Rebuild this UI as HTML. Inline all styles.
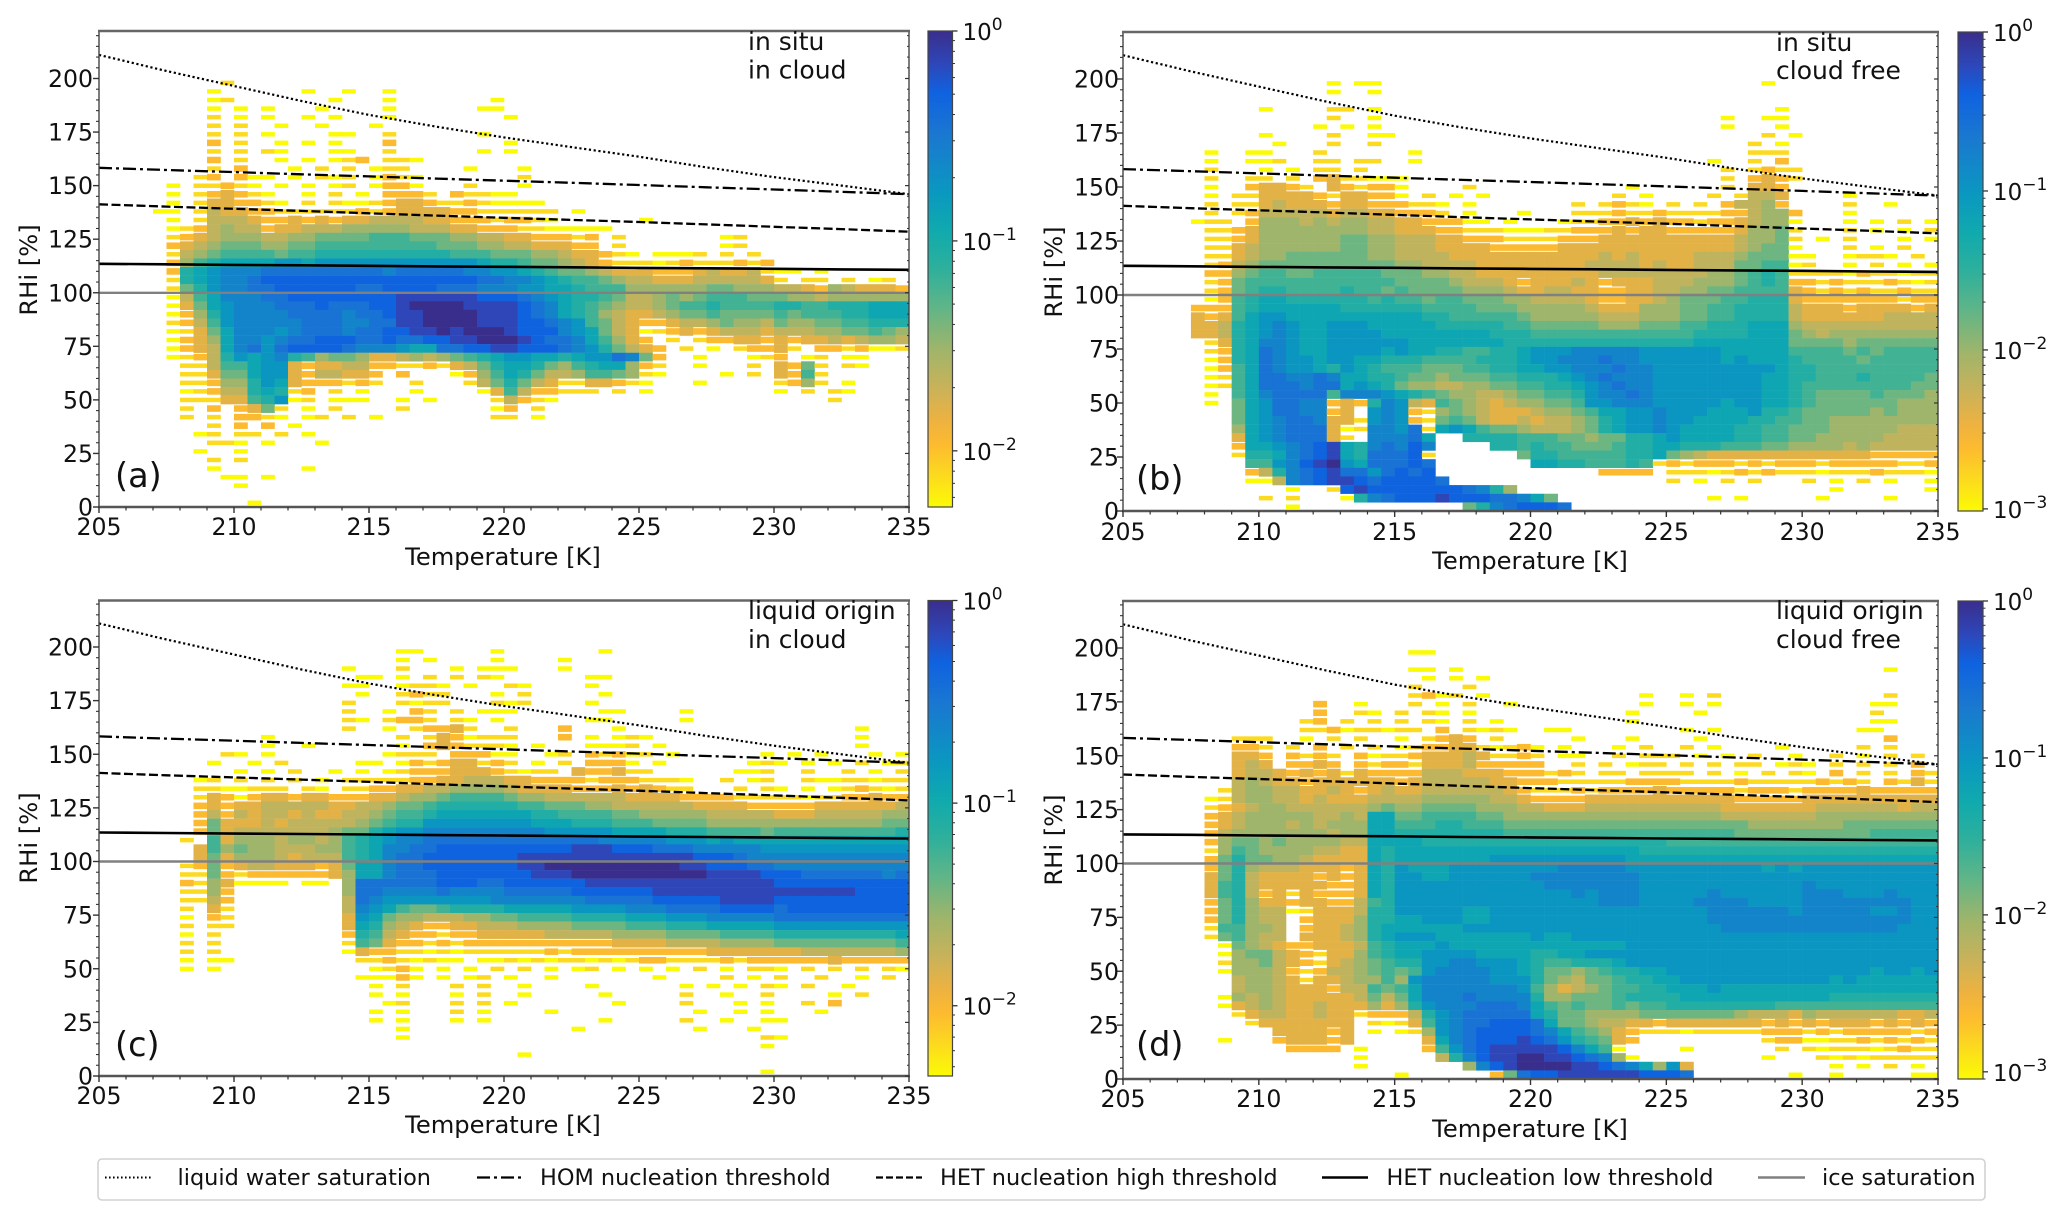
<!DOCTYPE html>
<html lang="en">
<head>
<meta charset="utf-8">
<title>RHi versus temperature frequency distributions</title>
<style>
html,body{margin:0;padding:0;background:#fff;}
svg{display:block;}
text{font-family:"DejaVu Sans","Liberation Sans",sans-serif;fill:#111;}
</style>
</head>
<body>
<svg id="figure" width="2067" height="1217" viewBox="0 0 2067 1217">
<rect x="0" y="0" width="2067" height="1217" fill="#fff"/>
<g id="panels"></g>
<g>
<rect x="98" y="1159" width="1887" height="41" rx="4" fill="#fff" stroke="#d2d2d6" stroke-width="1.6"/>
<line x1="105" y1="1177.5" x2="152" y2="1177.5" stroke="#000" stroke-width="2" stroke-dasharray="1.6 2.4"/>
<text x="177.5" y="1185" font-size="22.4">liquid water saturation</text>
<line x1="477" y1="1177.5" x2="523" y2="1177.5" stroke="#000" stroke-width="2.2" stroke-dasharray="13 4 3 4"/>
<text x="540" y="1185" font-size="22.4">HOM nucleation threshold</text>
<line x1="876" y1="1177.5" x2="922" y2="1177.5" stroke="#000" stroke-width="2.2" stroke-dasharray="7 3"/>
<text x="940" y="1185" font-size="22.4">HET nucleation high threshold</text>
<line x1="1322" y1="1177.5" x2="1368" y2="1177.5" stroke="#000" stroke-width="2.6"/>
<text x="1386.5" y="1185" font-size="22.4">HET nucleation low threshold</text>
<line x1="1758" y1="1177.5" x2="1805" y2="1177.5" stroke="#808080" stroke-width="2.4"/>
<text x="1822" y="1185" font-size="22.4">ice saturation</text>
</g>
</svg>
<script>
// Axis categories: lower edge of each heatmap bin.
const temperatureBins = [205,205.5,206,206.5,207,207.5,208,208.5,209,209.5,210,210.5,211,211.5,212,212.5,213,213.5,214,214.5,215,215.5,216,216.5,217,217.5,218,218.5,219,219.5,220,220.5,221,221.5,222,222.5,223,223.5,224,224.5,225,225.5,226,226.5,227,227.5,228,228.5,229,229.5,230,230.5,231,231.5,232,232.5,233,233.5,234,234.5];
const rhiBins = [196,192,188,184,180,176,172,168,164,160,156,152,148,144,140,136,132,128,124,120,116,112,108,104,100,96,92,88,84,80,76,72,68,64,60,56,52,48,44,40,36,32,28,24,20,16,12,8,4,0];

// Tick labels.
const xTickLabels = [205,210,215,220,225,230,235];
const yTickLabels = [0,25,50,75,100,125,150,175,200];

// Threshold curves.
const curveTemperatures = [205,207.5,210,212.5,215,217.5,220,222.5,225,227.5,230,232.5,235];
const liquidWaterSaturation = [211,203.5,196.5,189.5,183,177.5,172.5,168,163.5,158.5,154,150,146];
const homThreshold = [158.3,157.3,156.3,155.3,154.3,153.3,152.3,151.3,150.3,149.2,148.2,147.1,146];
const hetHighThreshold = [141.3,140.2,139.2,138.2,137.1,136,135,134,133,131.9,130.8,129.7,128.5];
const hetLowThreshold = [113.5,113.3,113,112.8,112.6,112.3,112.1,111.9,111.6,111.4,111.2,110.9,110.7];
const iceSaturation = [100,100,100,100,100,100,100,100,100,100,100,100,100];

// Colormap, from low frequency to high frequency.
const colormapPositions = [0,0.07,0.13,0.18,0.25,0.33,0.42,0.5,0.58,0.66,0.78,0.87,0.93,1];
const colormapColors = ['#fbfb05','#fcd820','#fdbb2f','#eeb240','#c9b25a','#a0b56a','#5fb588','#2eb09c','#10aaae','#0a98c0','#1a78d0','#0f62e0','#2d47ba','#3a2e8c'];

// Heatmap frequencies. One string per RHi bin and one character per temperature bin.
// "." means empty. 0-f are steps of 1/15 along the panel's logarithmic colour scale.
const panelARows = [
".........1 .......... .......... .......... .......... ..........",
"........0. .....0..0. .0........ .......... .......... ..........",
"........01 .......0.. .0.......0 .......... .......... ..........",
"........0. 0.0...0... .0......00 .......... .......... ..........",
"........1. 0.0..0.0.. .0........ 0......... .......... ..........",
"........1. 1..0..0... 0......... .......... .......... ..........",
"........1. 1.0....00. .1......0. .......... .......... ..........",
"........2. 1..0.0.0.. .2........ 0......... .......... ..........",
"........1. 1.10...00. .1......0. 0......... .......... ..........",
"........2. 1..0.0.012 .110...... .......... .......... ..........",
"........1. 2...0.1.1. 011....0.. .0........ .......... ..........",
".......12. 200.0.101. 0210...... .1........ .......... ..........",
".....0.112 10.0.0.01. 0220...1.. .0........ .......... ..........",
".....0.123 210..0.1.0 .2221.2110 0......... .......... ..........",
".....0.133 2210.1.100 1233211210 000....... .......... ..........",
"....00.143 3221111112 1233332211 1111.0.... .......... ..........",
".....0.144 4322323233 4444332221 2210...... 0......... ..........",
".....01245 4423344455 5554443322 21100000.. .......... ..........",
".....12345 5544556666 7776665544 3322212.1. ......01.. ..........",
".....23456 6655667777 7777766655 4433322.1. ......01.. ..........",
".....14567 7776778888 8888887776 6655433210 .0001.1.1. ..........",
".....25789 999aa9aaaa aaaaaaaa98 8766543211 1012111212 ..........",
".....289ab bbcccccccc cbcccccbba a987665433 3222343341 00.0......",
".....189ab bcdddddddd ddddddddcc bba9877654 4333444443 1.11.1.01.",
".....168ab bccddddddc cddddcccbb baa9987775 5555566555 4432543332",
".....0479b bbccdddddd ddeeeeeedd dcba988764 4565677766 6554555555",
".....0369a bbbcccdccc ddeffffeee edcb987654 4567787777 8877888999",
".....0258a bbbbccccbc cdeeffffee edcb987543 3456676666 7677788999",
".....1247a bbbbbcccbb cceeffffee eddcba7643 2234456554 6556677888",
".....01369 bbbabcccbc cddeefefff edddba9643 0123234443 4445566765",
".....02359 bbabccdddc cdccddeeff fedccb9753 2.1.122332 3233434554",
".....02349 bcacddddcb bba99ccdde edddcba864 32.1.0.122 31.2212001",
".....01248 a9ab875665 3345456789 aa9989aacb 62..0...01 2.01.00...",
"......1147 79aa323344 2211213468 9986578995 21..0...1. 3261.10...",
"......1136 69aa324433 2.2...0257 9864457765 10....0.1. 3271......",
"......1125 58a9322212 1..1...146 8643113321 0...0..... 1251.0....",
"......0124 489812.1.0 ...0....03 7422111.1. 0......... 0.1.10....",
"......1113 378a01.000 ..0.0....1 4210...... .......... ....1.....",
"......1.2. 2361.0.1.. ..1......0 2.1....... .......... ..........",
"......1.1. 2210.01.1. 0........1 1.0....... .......... ..........",
"........1. 2.2.0..... .......... .......... .......... ..........",
".......01. 11.1.0.... .......... .......... .......... ..........",
"........11 0.0...0... .......... .......... .......... ..........",
".......0.. 0......... .......... .......... .......... ..........",
"........1. 1......... .......... .......... .......... ..........",
"........0. .....0.... .......... .......... .......... ..........",
".........0 0.0....... .......... .......... .......... ..........",
".......... 0......... .......... .......... .......... ..........",
".......... .......... .......... .......... .......... ..........",
".......... .0........ .......... .......... .......... .........."
];
const panelBRows = [
".......... .....0.00. .......... .......... .......0.. ..........",
".......... .....0..0. .......... .......... .......... ..........",
".......... .......... .......... .......... .......... ..........",
".......... 0....11.0. .......... .......... ........0. ..........",
".......... .....1..0. .......... .......... ....0..00. ..........",
".......... ....0.0.0. .......... .......... ....0...0. ..........",
".......... 0....1..00 .......... .......... .......1.0 ..........",
".......... .0...1..1. .......... .......... ......1.0. ..........",
"......0..0 0...1..... .0........ .......... ......111. ..........",
"......0..0 01..11.11. .0........ .......... ...0..1.2. ..........",
"......1... 0.0.11.1.. .......... .......... ....1.1211 ..........",
"......1..1 1.1.231100 0......... .......... ....1.2321 ..........",
"......0..2 3321.32122 0....1.... .......0.. ....1.332. ..........",
"......0.11 3333213322 0.1.0.0... ......1.0. ...1.1443. ...0......",
"......1.11 3433323322 2110.0.... ...1.1210. 1.1.24452. ...1..0...",
"......1.12 4444434433 2221.0...0 ...1112112 1111224552 ...0......",
".....011.2 5554545544 3322200.0. ..01122323 2212234550 ...0.0.1.0",
"......1123 5555555544 3332211100 0112223233 2222235561 ...1.0.0.1",
"......1123 5555556655 4443322211 1122233333 3333345561 .0.1...0.0",
"......1134 5555556655 4443333222 2233333333 3333345660 ...1.0.1..",
"......1134 5566666655 4444333333 3333343433 3344456660 0..0110.1.",
"......1245 6666666666 5544443333 3333444434 3344466770 1..0.1.0.0",
"......2256 7766777776 6655443333 3333344444 4445567871 1110211011",
"......1267 7777777777 6666544432 3334323334 4455567872 2121112101",
"......1267 8877778776 7666655543 3443322334 4556677773 2121211211",
"......0278 9988888878 7767766655 4444322334 5666778883 2222222122",
".....22278 9999998888 8877776665 5555433355 5667788884 3332333323",
".....32379 aa99999999 9988777776 5555544455 5667788884 3333334444",
".....33489 aba99aaa99 9998888877 6666655566 6778889995 4444444444",
".....33489 aba99aaaa9 9999999888 7777777777 7788889996 5455555555",
"......1389 bba99aaaaa a999999988 8888888888 8899999996 6665666666",
"......1289 cba99aaaa9 a998877889 aaabbbbbaa aaaa999997 7776767777",
"......0289 cbaa9aa998 8877778889 aabbbcbbaa aaaa9a9998 7777677777",
"......0279 cbaa98a987 7766677889 9aabbbcbba aaaaaaaa98 8777777777",
"......0179 ccbbcb9988 7665666778 889abcbbba aaaaaaa998 8777877776",
"......0179 cccbcc9a98 6554455667 7889abcbba aaaaaaa998 7777777766",
"......0.79 bcccc7bbba 9876554456 6778abbcba aaaaaaa998 7666676665",
"......0.69 accbb2328b a437654345 5667aabbba aaaa9aa998 7666666555",
"........69 accbb23.ab a215654333 4556799aab aaa999a887 6666656555",
"........69 abccb331ab a216764334 3445689aab aa99998877 6655555555",
"........59 abccc301bb ac19a97665 4445689aab a999988776 6655555444",
"........39 abccc31.bb bc9..88887 7766566889 a999988776 6555554444",
"........29 9abcde98bc bdb....887 8776667889 9888777665 5554544444",
"........18 89bcde98cc cd1......6 8877777889 6543333333 3333322222",
".........7 7abdefa9cc cdc....... 9988777871 2122212122 2122222112",
".........2 48bcdeccac dcd....... .....2222. 1110121211 1011121110",
".........0 04bcdeedcd dddc...... .......... 1.0.1.1... 1.0.1.0..0",
".......... ..0..1dedd dddddcb85. .......... .......... ..0......0",
".......... 1.1...08bc dddedddccb 96........ ...0.0.... .0....0...",
".......... ..0....... .....68bcd ddc....... .......... .........."
];
const panelCRows = [
".......... .......... ..00.....0 .......0.. .......... ..........",
".......... .......... ..0.0....0 ....0..... .......... ..........",
".......... ........0. ..1...0.00 0...0..... .......... ..........",
".......... .........0 0.0.1.1.10 ......00.. .......... ..........",
".......... ........00 ..0110.0.. 10....0... .......... ..........",
".......... .........0 ..1211...0 .1.....0.. .......... ..........",
".......... ........1. ..1011...1 01....0... .......... ..........",
".......... ........1. .0.21.1.00 0......00. ...0...... ..........",
".......... ........10 .1221.10.0 ......00.. ...0...... ..........",
".......... ........1. .0.12231.. 1...2...0. .......... ......0...",
".......... ..0....... ..1.132011 1...2.0.01 0......... ......0...",
".......... ..0..0.... ..0.232111 0.0...0001 .0........ ......0...",
".........1 0.0....... .0111.2220 0..01.2120 1.0......0 .0.0...0.0",
"........0. .0.1.....0 0.02123312 1.0.1.2220 .0......01 0.0.0.1.01",
".......... 0.0.1..0.0 .012223332 1011.32231 1......001 ..1..1.0.1",
".......01. 1.1.1.0.11 1112233444 3322221222 1110..1.01 ..10011011",
".......110 0111.10.11 2233445555 4333322232 3211...1.1 0.0.012101",
".......132 0233233222 3345567777 6554444443 3332222111 1101122322",
".......232 3344444334 4566788888 8776665544 4444333322 2223333334",
".......242 4344343344 5677899999 9988777766 5555544444 3334444455",
".......263 3343444445 6788aaaaaa aa99988877 7666655555 5555555566",
".......263 4444444566 89aabbbbbb bbbaaaaa99 9988877776 7777777778",
"......1.73 5554554578 9abbcccccc cccccccbbb bbaaa9a999 9999999999",
".......375 6554445578 9bbccddddd dddddeeedd dcccbbbbba aaaaaaaaaa",
".......363 5554344478 9bccdddddd deeeeeeeee eeeedddcbb bbbbbbbbbb",
"......1262 3443332369 9bccdddddd deefffffff fffeedddcc bbbbbbbbbb",
"......1162 1222222359 9bcccddddd ddeeefffff fffffeeeed ddccccccbc",
"......2153 0000.00.5c cccccdddcc ddddddeeee eeeeeeeeee dddddddddd",
"......1152 ........5c cbbbbcbbbb cccccddddd deeeeeeeee eeeeeedddd",
"......1142 ........4c baaaaaaaab bbbbbbcccc cdddddeeee dddddddddd",
"......1.31 ........4b a976678888 99999aaaab bbccccdddd cddddddddd",
"......0.21 ........3a 9655444556 6777788889 99aaabbbbb cccccccccc",
"......1.11 ........39 8543223344 4555566667 7788899999 aaaaaaaaaa",
"......0.1. ........28 7432212233 3334444455 5566667777 8888888889",
"......1.1. ........17 6322121222 2222222233 3344445555 6666666667",
"......1.1. ........03 2211010111 1112122222 2222233333 3344444445",
"......0.00 .........1 1210100.00 1010110101 2211112122 2222322222",
"......0.0. .......... 0120.0.0.1 .1.0.01.0. 0.0.1.0.11 0.1.1.1.10",
".......... .........0 0020.0.01. 0..0...... .0....1.0. 1..1..0.1.",
".......... .......... 0.1...1.1. .0....0... ...0.0.0.1 0.1..0....",
".......... .......... 0.0...0.1. .0.....0.. ...1..0..1 ....0.1...",
".......... .......... .01...1.1. 0.......0. ...1...0.0 ..1.2.....",
".......... .......... 0.0...1.0. ...0...... ....0..0.0 ...0......",
".......... .......... 0.0...0.0. .......0.. ...1..0..0 0.........",
".......... .......... ..0....... .....0.... ....0...0. ..........",
".......... .......... ..0....... .......... .........1 0.........",
".......... .......... .......... .......... .........0 ..........",
".......... .......... .......... .0........ .......... ..........",
".......... .......... .......... .......... .......... ..........",
".......... .......... .......... .......... .........0 .........."
];
const panelDRows = [
".......... .......... .00....... .......... .......... ..........",
".......... .......... .......... .......... .......... ..........",
".......... .......... .00.0..... .......... .......... ......0...",
".......... .......... ..0.0.0... .......... .......... ..........",
".......... .......... .1...1.... .......... .......... ..........",
".......... .......... .1201.0... ........0. .0.1...... ......1...",
".......... ....2..0.. .1.0.1..0. ........0. .0.0...... .....00...",
".......... ....2..10. 1.10.0.... .......0.. ..0....... .....1....",
".......... ...12.1.1. 1.10.1.0.. .......0.. .......... .....00...",
".......... ...1120110 11.2.1010. .00....... .0.0...... ....00....",
"........11 1..0.1.1.. 0.1232.1.. ...0...0.. ..0....... ......2...",
"........22 1.1.2.1.1. 0122331012 0.0...0.1. .1.0....0. ....1.1...",
"........33 2.2121.201 1233343112 1.00..1.11 1.0.0.1..0 ..1.0.1.1.",
"........34 3.2232.212 2133342222 2..1.1.011 .1.1.11.01 0.1.1.1.2.",
"........34 4323231322 2244433322 2121.11.11 11.1.0.1.1 0.2.1.1.21",
"........45 4332333333 2344444332 2211111222 2111121111 12121.2131",
".......145 5443343234 3344444432 1112122223 2222212221 2222322222",
"......0145 5443433344 4455555443 2222333333 3333322222 3333333333",
"......1234 5544444456 5566665554 4333444444 4444333333 3444444344",
"......2345 5555445499 6677776655 5555555555 5555444444 4555555555",
"......2345 5545455599 7778877766 6666666666 6666665555 5556666666",
"......2455 5555545599 8888888877 7777777777 7777766666 6666677777",
"......2566 5655554499 9988888888 8888888888 7777777777 7777777777",
"......1576 5555443398 9999999999 9999999988 8888888888 8888888888",
"......2686 6554333398 9999999aaa aaaaaaa999 9999999999 9999999999",
"......2685 4443332398 a999aaaaaa aabbbbbaaa aaaaaaa9a9 aaaaaaaaaa",
"......3684 3333232398 aa99aaaaaa bbbbbbbbaa aaaaaaaaaa aaaaaaaaaa",
"......3784 3333322398 aaaaaaaaaa abbbbbbbaa aaaaaaaaaa baaaaaaaaa",
"......3784 2313222398 aaaaaaaaaa aaababbbaa aaabaaaaaa bbbaaabaaa",
"......2685 3323322478 aaaaaaaaaa aaaaabbbaa aabbbbaaaa bbbbbbbbaa",
"......2685 4401333488 aaaaa99aaa aaaaaaaaaa aaabbbbbba bbbbbaabaa",
"......2685 44.2333588 99aaa99aaa aaaaaaaaaa aaabbbbbbb bbbbbbbbaa",
"......1775 54.2334589 99999aaaaa aaaaaaaaaa aaaabbbbbb bbbbbbbaaa",
"......1675 44.3334589 aaa9999999 a99aaaaaaa aaaaaaaaaa aaaaaaaaaa",
".......065 4322333478 999a999999 9999999aaa aaaaaaaaaa aaaaaaaaaa",
".......056 6432133578 99aaaa9999 8899aaaaaa aaaaaaaaaa aaaaaaaaaa",
".......155 6432134567 88aabbaaa9 8778889aaa aaaaaaaaaa aaaaaaaaaa",
".......055 5421244567 67abbbbaa9 8665678899 aaaaaaaaaa aaaaa9aa9a",
"........45 5431334557 5abbbbbaaa 8654667889 9aaaaaaaaa aa9a999999",
"........45 5433324476 79bbbbbbba 7534567788 999a999999 9999999999",
".......054 5433333464 69bbbcbbbb 8556667888 8999999999 9988888888",
".......034 5433433353 58abbbcccb 9767667677 8888888877 7777777777",
"........13 4433433122 248abccccc 9866555566 6666654443 5444444334",
".........1 3333333.10 137abccddd c966544332 3333333232 3233323232",
".......... .333323.0. 015abcdddd cb97653211 1011111222 1212222212",
".......0.. .233323... ..39bcddde dca87632.. .......122 0011212121",
".......... ..2222.0.. ..27acdeee eedb970... .0......1. 1011101211",
".......... .......0.. ...48bdeef feedcb50.. .......0.. .101011111",
".......... .......0.. .....5bdef fffeedcb95 a3........ ..0.0.1.0.",
".......... .......... 0......26c ddeeeeeedd dc.......0 ..0.....00"
];

// Colorbar decade labels for each panel.
const colorbarExponentsA = [0,-1,-2];
const colorbarExponentsB = [0,-1,-2,-3];
const colorbarExponentsC = [0,-1,-2];
const colorbarExponentsD = [0,-1,-2,-3];

const panels = [
 {key:'a',rows:panelARows,exps:colorbarExponentsA,vmin:0.0054,left:99,right:909,top:31,bottom:507,pxPerRhi:2.1425,cbLeft:928,cbRight:952.5,notes:['in situ','in cloud'],noteX:748,noteY:[50,78.5],tag:'(a)',tagX:115,tagY:487,xLabelX:503,xLabelY:565,tickY:535,yLabelX:37,yLabelY:270,yTickX:93},
 {key:'b',rows:panelBRows,exps:colorbarExponentsB,vmin:0.00097,left:1123,right:1938,top:32,bottom:511,pxPerRhi:2.16,cbLeft:1958,cbRight:1983,notes:['in situ','cloud free'],noteX:1776,noteY:[51,79],tag:'(b)',tagX:1136,tagY:490,xLabelX:1530,xLabelY:569,tickY:540,yLabelX:1062,yLabelY:272,yTickX:1119},
 {key:'c',rows:panelCRows,exps:colorbarExponentsC,vmin:0.0045,left:99,right:909,top:600.5,bottom:1076,pxPerRhi:2.145,cbLeft:928,cbRight:952.5,notes:['liquid origin','in cloud'],noteX:748,noteY:[619,648],tag:'(c)',tagX:115,tagY:1056,xLabelX:503,xLabelY:1133,tickY:1104,yLabelX:37,yLabelY:838,yTickX:93},
 {key:'d',rows:panelDRows,exps:colorbarExponentsD,vmin:0.0009,left:1123,right:1938,top:601,bottom:1079,pxPerRhi:2.155,cbLeft:1958,cbRight:1983,notes:['liquid origin','cloud free'],noteX:1776,noteY:[619,648],tag:'(d)',tagX:1136,tagY:1056,xLabelX:1530,xLabelY:1137,tickY:1107,yLabelX:1062,yLabelY:840,yTickX:1119}
];

const figure = document.getElementById('figure');
const ns = figure.namespaceURI;
const panelsGroup = document.getElementById('panels');

function hexToRgb(h){return [parseInt(h.slice(1,3),16),parseInt(h.slice(3,5),16),parseInt(h.slice(5,7),16)];}
function colormap(t){
  const v = Math.max(0,Math.min(1,t));
  for(let i=1;i<colormapPositions.length;i++){
    if(v<=colormapPositions[i]){
      const f=(v-colormapPositions[i-1])/(colormapPositions[i]-colormapPositions[i-1]);
      const a=hexToRgb(colormapColors[i-1]);
      const b=hexToRgb(colormapColors[i]);
      return 'rgb('+Math.round(a[0]+(b[0]-a[0])*f)+','+Math.round(a[1]+(b[1]-a[1])*f)+','+Math.round(a[2]+(b[2]-a[2])*f)+')';
    }
  }
  return colormapColors[colormapColors.length-1];
}
function frequencyFromLevel(level,vmin){return vmin*Math.pow(1/vmin,level/15);}
function normFrequency(value,vmin){return (Math.log10(value)-Math.log10(vmin))/(0-Math.log10(vmin));}

function addGroup(parent,name){
  const el=document.createElementNS(ns,'g');
  
  
  parent.appendChild(el);
  return el;
}
function addLine(parent,x1,y1,x2,y2,color,width,name){
  const el=document.createElementNS(ns,'line');
  el.setAttribute('x1',x1);
  el.setAttribute('y1',y1);
  el.setAttribute('x2',x2);
  el.setAttribute('y2',y2);
  el.setAttribute('stroke',color);
  el.setAttribute('stroke-width',width);
  
  
  parent.appendChild(el);
  return el;
}
function addText(parent,x,y,content,size,anchor,name){
  const el=document.createElementNS(ns,'text');
  el.setAttribute('x',x);
  el.setAttribute('y',y);
  el.setAttribute('font-size',size);
  el.setAttribute('text-anchor',anchor);
  el.textContent=content;
  
  
  parent.appendChild(el);
  return el;
}
function addCurve(parent,p,xf,yf,values,color,width,dash,name){
  const el=document.createElementNS(ns,'polyline');
  el.setAttribute('points',values.map(function(v,i){return xf(curveTemperatures[i]).toFixed(1)+','+yf(v).toFixed(1);}).join(' '));
  el.setAttribute('fill','none');
  el.setAttribute('stroke',color);
  el.setAttribute('stroke-width',width);
  if(dash){el.setAttribute('stroke-dasharray',dash);}
  
  
  parent.appendChild(el);
  return el;
}

const defs=document.createElementNS(ns,'defs');
figure.insertBefore(defs,figure.firstChild);
const gradient=document.createElementNS(ns,'linearGradient');
gradient.setAttribute('id','cbar-gradient');
gradient.setAttribute('x1','0');
gradient.setAttribute('y1','1');
gradient.setAttribute('x2','0');
gradient.setAttribute('y2','0');
colormapPositions.forEach(function(pos,i){
  const stop=document.createElementNS(ns,'stop');
  stop.setAttribute('offset',pos);
  stop.setAttribute('stop-color',colormapColors[i]);
  gradient.appendChild(stop);
});
defs.appendChild(gradient);

panels.forEach(function(p){
  const g=addGroup(panelsGroup,'panel-'+p.key);
  const xScale=function(t){return p.left+(t-205)*(p.right-p.left)/30;};
  const yScale=function(r){return p.bottom-r*p.pxPerRhi;};
  const cellWidth=(p.right-p.left)/60;

  // Heatmap
  const heat=addGroup(g,'heatmap-'+p.key);
  p.rows.forEach(function(raw,ri){
    const row=raw.replace(/ /g,'');
    const rhi=rhiBins[ri];
    for(let ci=0;ci<temperatureBins.length;ci++){
      const ch=row.charAt(ci);
      if(!ch||ch==='.'){continue;}
      const level=parseInt(ch,16);
      const value=frequencyFromLevel(level,p.vmin);
      const full=(yScale(rhi)-yScale(rhi+4));
      const h=level<=1?full*0.5:(level===2?full*0.74:full);
      const el=document.createElementNS(ns,'rect');
      el.setAttribute('x',xScale(temperatureBins[ci]).toFixed(2));
      el.setAttribute('y',(yScale(rhi+4)+(full-h)/2).toFixed(2));
      el.setAttribute('width',(cellWidth+0.3).toFixed(2));
      el.setAttribute('height',(h+0.2).toFixed(2));
      el.setAttribute('fill',colormap(normFrequency(value,p.vmin)));
      
      
      heat.appendChild(el);
    }
  });

  // Threshold curves
  const curves=addGroup(g,'threshold-curves-'+p.key);
  addCurve(curves,p,xScale,yScale,iceSaturation,'#808080',2.4,null,'ice-saturation-line');
  addCurve(curves,p,xScale,yScale,hetLowThreshold,'#000',2.6,null,'het-low-threshold-line');
  addCurve(curves,p,xScale,yScale,hetHighThreshold,'#000',2.3,'9 3.5','het-high-threshold-line');
  addCurve(curves,p,xScale,yScale,homThreshold,'#000',2.3,'13 4 3 4','hom-threshold-line');
  addCurve(curves,p,xScale,yScale,liquidWaterSaturation,'#000',2.2,'2.2 2.6','liquid-water-saturation-line');

  // Axes
  const axes=addGroup(g,'axes-'+p.key);
  addLine(axes,p.left,p.top,p.left,p.bottom,'#444',1.4,'left-spine');
  addLine(axes,p.right,p.top,p.right,p.bottom,'#444',1.4,'right-spine');
  addLine(axes,p.left-1,p.top,p.right+1,p.top,'#666',2.4,'top-spine');
  addLine(axes,p.left-1,p.bottom,p.right+1,p.bottom,'#555',2.6,'bottom-spine');

  xTickLabels.forEach(function(t,i){
    const x=xScale(t);
    addLine(axes,x,p.bottom,x,p.bottom+6,'#333',1.4,'x-major-tick');
    addText(axes,x,p.tickY,String(t),23.6,'middle','x-tick-label');
    if(i<xTickLabels.length-1){
      for(let k=1;k<5;k++){
        const mx=xScale(t+k);
        addLine(axes,mx,p.bottom,mx,p.bottom+3.5,'#333',1.2,'x-minor-tick');
      }
    }
  });
  yTickLabels.forEach(function(r,i){
    const y=yScale(r);
    addLine(axes,p.left-6,y,p.left,y,'#333',1.4,'y-major-tick');
    addLine(axes,p.right-4,y,p.right,y,'#333',1.2,'y-major-tick-right');
    addText(axes,p.yTickX,y+8.5,String(r),23.6,'end','y-tick-label');
    for(let k=1;k<5;k++){
      const my=yScale(r+k*5);
      if(my<p.top){continue;}
      addLine(axes,p.left-3,my,p.left,my,'#333',1.1,'y-minor-tick');
      addLine(axes,p.right-2,my,p.right,my,'#333',1,'y-minor-tick-right');
    }
  });

  addText(axes,p.xLabelX,p.xLabelY,'Temperature [K]',24.2,'middle','x-axis-title');
  const yTitle=addText(axes,p.yLabelX,p.yLabelY,'RHi [%]',24.2,'middle','y-axis-title');
  yTitle.setAttribute('transform','rotate(-90 '+p.yLabelX+' '+p.yLabelY+')');

  p.notes.forEach(function(note,i){
    addText(g,p.noteX,p.noteY[i],note,25,'start','panel-condition-note');
  });
  addText(g,p.tagX,p.tagY,p.tag,33.5,'start','panel-tag');

  // Colorbar
  const cb=addGroup(g,'colorbar-'+p.key);
  const bar=document.createElementNS(ns,'rect');
  bar.setAttribute('x',p.cbLeft);
  bar.setAttribute('y',p.top);
  bar.setAttribute('width',p.cbRight-p.cbLeft);
  bar.setAttribute('height',p.bottom-p.top);
  bar.setAttribute('fill','url(#cbar-gradient)');
  bar.setAttribute('stroke','#444');
  bar.setAttribute('stroke-width','1.2');
  
  
  cb.appendChild(bar);
  const cbY=function(v){return p.bottom-normFrequency(v,p.vmin)*(p.bottom-p.top);};
  p.exps.forEach(function(e){
    const y=cbY(Math.pow(10,e));
    addLine(cb,p.cbRight,y,p.cbRight+5,y,'#333',1.3,'colorbar-major-tick');
    const label=addText(cb,p.cbRight+10,y+9,'10',23,'start','colorbar-tick-label');
    const sup=document.createElementNS(ns,'tspan');
    sup.setAttribute('dy','-10');
    sup.setAttribute('font-size','17');
    sup.textContent=e===0?'0':'\u2212'+Math.abs(e);
    label.appendChild(sup);
    for(let m=2;m<10;m++){
      const v=m*Math.pow(10,e-1);
      if(v<p.vmin){continue;}
      const my=cbY(v);
      addLine(cb,p.cbRight,my,p.cbRight+2.5,my,'#333',1,'colorbar-minor-tick');
    }
  });
});
</script>
</body>
</html>
